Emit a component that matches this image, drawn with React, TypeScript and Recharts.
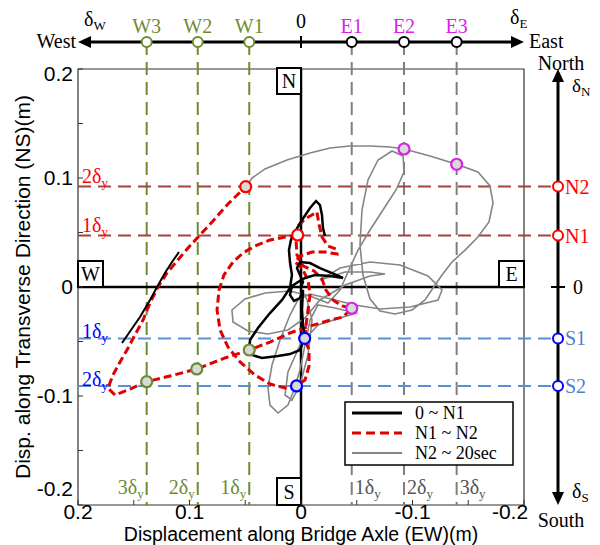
import React from 'react';
import {
  ComposedChart, Line, XAxis, YAxis,
  ReferenceLine, ReferenceDot, ReferenceArea,
} from 'recharts';

// ─── Yield levels (m), 1δy / 2δy / 3δy ─────────────────────────────────────────
const westLevels = [0.0464, 0.0926, 0.1384];     // W1, W2, W3
const eastLevels = [-0.0455, -0.0924, -0.1396];  // E1, E2, E3
const northLevels = [0.0472, 0.0922];            // N1, N2
const southLevels = [-0.0472, -0.0908];          // S1, S2

const axisTicks = [0.2, 0.15, 0.1, 0.05, 0, -0.05, -0.1, -0.15, -0.2];

// ─── Orbit traces (x = EW, y = NS) ────────────────────────────────────────────
const black0toN1: [number, number][] = [
  [0, 0], [-0.0018, 0.0046], [0.0009, 0.011], [0.0036, 0.0174], [0.0009, 0.0229],
  [-0.0081, 0.022], [-0.017, 0.0174], [-0.0278, 0.0128], [-0.0377, 0.0083],
  [-0.026, 0.0101], [-0.0126, 0.011], [-0.0036, 0.0083], [0.0027, 0.0046],
  [0.0081, 0.0009], [0.0099, -0.0073], [0.0063, -0.0128], [0.0009, -0.0101],
  [-0.0018, -0.0028], [-0.0009, -0.0211], [-0.0018, -0.0349], [-0.0033, -0.0471],
  [0.0009, -0.0578], [0.0099, -0.0615], [0.0206, -0.0633], [0.035, -0.0651],
  [0.0439, -0.0624], [0.0464, -0.0578], [0.0457, -0.0486], [0.0386, -0.0376],
  [0.0278, -0.0239], [0.017, -0.0119], [0.0099, -0.0009], [0.0081, 0.011],
  [0.0099, 0.0229], [0.0108, 0.0339], [0.009, 0.0431], [0.0045, 0.0523],
  [-0.0009, 0.0615], [-0.0081, 0.0725], [-0.0135, 0.0789], [-0.017, 0.0752],
  [-0.0188, 0.0661], [-0.0197, 0.0541], [-0.0215, 0.0468],
];

const blackArrow: [number, number][] = [
  [0.1605, -0.0514], [0.1525, -0.0394], [0.1444, -0.0275], [0.1354, -0.0119],
  [0.1291, 0], [0.122, 0.0128], [0.1157, 0.0229], [0.1094, 0.0321],
];

const redN1toN2: [number, number][] = [
  [0.003, 0.0477], [0.0143, 0.0459], [0.0278, 0.0431], [0.0413, 0.0376],
  [0.052, 0.0312], [0.061, 0.0229], [0.0691, 0.011], [0.0735, -0.0028],
  [0.0753, -0.0211], [0.0726, -0.0394], [0.0655, -0.055], [0.0547, -0.0688],
  [0.0413, -0.0807], [0.0278, -0.089], [0.0143, -0.0927], [0.004, -0.0908],
  [-0.0036, -0.0853], [-0.0072, -0.0725], [-0.0072, -0.0578], [-0.0033, -0.0471],
  [-0.0045, -0.0349], [-0.0063, -0.0211], [-0.0081, -0.0073], [-0.0063, 0.0064],
  [-0.0009, 0.0174], [0.0054, 0.0229], [0.0009, 0.0284], [-0.0099, 0.0321],
  [-0.0215, 0.0321], [-0.0323, 0.0303], [-0.0314, 0.0349], [-0.0242, 0.0376],
  [-0.0188, 0.0459], [-0.0161, 0.0578], [-0.0143, 0.0688], [-0.0036, 0.0624],
  [0.0027, 0.056], [0.0045, 0.0431], [0.0036, 0.0294], [-0.0018, 0.0193],
  [-0.0117, 0.0147], [-0.0188, 0.0073], [-0.0224, -0.0028], [-0.0287, -0.0119],
  [-0.0368, -0.0174], [-0.0455, -0.0195], [-0.0377, -0.0275], [-0.0233, -0.0312],
  [-0.0054, -0.0367], [0.0099, -0.0422], [0.0278, -0.0505], [0.0464, -0.0578],
  [0.0682, -0.0651], [0.0935, -0.0752], [0.1175, -0.0817], [0.1384, -0.0869],
  [0.1534, -0.0936], [0.1668, -0.0991], [0.1731, -0.0927], [0.1686, -0.0807],
  [0.1623, -0.0688], [0.1561, -0.0578], [0.1489, -0.044], [0.1417, -0.0303],
  [0.1354, -0.0147], [0.1283, 0], [0.1202, 0.0128], [0.1112, 0.0239],
  [0.1013, 0.0358], [0.0906, 0.0477], [0.0789, 0.0606], [0.0655, 0.0761],
  [0.0496, 0.092],
];

const greyN2to20s: [number, number][] = [
  [0.0496, 0.092], [0.0439, 0.1], [0.0323, 0.1083], [0.0126, 0.1165],
  [-0.0081, 0.1229], [-0.026, 0.1275], [-0.0439, 0.1294], [-0.0619, 0.1294],
  [-0.0798, 0.1284], [-0.0924, 0.1266], [-0.1157, 0.1202], [-0.1396, 0.1126],
  [-0.1587, 0.1055], [-0.1695, 0.0927], [-0.1722, 0.0771], [-0.1686, 0.0596],
  [-0.1587, 0.0459], [-0.1471, 0.0339], [-0.1354, 0.0229], [-0.1265, 0.011],
  [-0.1184, -0.0009], [-0.1112, -0.0119], [-0.0996, -0.0211], [-0.0843, -0.0248],
  [-0.0709, -0.022], [-0.0619, -0.011], [-0.0556, 0.011], [-0.0529, 0.0385],
  [-0.0547, 0.0706], [-0.0601, 0.0982], [-0.0691, 0.1165], [-0.0816, 0.1248],
  [-0.0915, 0.1202], [-0.0924, 0.1055], [-0.0852, 0.089], [-0.0735, 0.0706],
  [-0.0619, 0.0523], [-0.0511, 0.0339], [-0.0422, 0.0138], [-0.035, -0.0028],
  [-0.0242, -0.0147], [-0.0081, -0.0083], [0.0099, -0.0037], [0.0323, -0.0055],
  [0.0502, -0.011], [0.0619, -0.0211], [0.061, -0.0321], [0.0475, -0.0404],
  [0.0296, -0.0431], [0.0117, -0.0394], [-0.0036, -0.0284], [-0.017, -0.0119],
  [-0.0395, 0.0018], [-0.0619, 0.0101], [-0.0753, 0.0119], [-0.0619, 0.0138],
  [-0.0395, 0.0138], [-0.017, 0.0064], [-0.035, 0.0174], [-0.0619, 0.0229],
  [-0.0888, 0.0202], [-0.1139, 0.0101], [-0.1265, -0.0028], [-0.1229, -0.0119],
  [-0.0978, -0.0183], [-0.0709, -0.0202], [-0.0484, -0.0165], [-0.0305, -0.0119],
  [-0.0081, -0.0064], [0.0027, -0.0119], [0.0099, -0.0257], [0.0188, -0.0486],
  [0.026, -0.0716], [0.0296, -0.0927], [0.0278, -0.1083], [0.0206, -0.1156],
  [0.0117, -0.1083], [0.0063, -0.0945], [0.0009, -0.0761], [-0.0036, -0.0532],
  [-0.0081, -0.0303], [-0.0152, -0.0165], [-0.0305, -0.0193], [-0.0493, -0.0239],
  [-0.035, -0.0284], [-0.0152, -0.0349], [0.0009, -0.0532], [0.0117, -0.078],
  [0.0143, -0.0991], [0.0081, -0.1037], [0.0009, -0.0899], [-0.0063, -0.0624],
  [-0.0099, -0.0303], [-0.0054, -0.0119], [-0.0009, -0.0028],
];

// first-crossing markers on the orbit
const crossMarks = [
  { name: 'N1', x: 0.003, y: 0.0477, kind: 'N', fill: '#FFFFFF' },
  { name: 'N2', x: 0.0496, y: 0.092, kind: 'N', fill: '#D9D9D9' },
  { name: 'S1', x: -0.0033, y: -0.0471, kind: 'S', fill: '#D9D9D9' },
  { name: 'S2', x: 0.004, y: -0.0908, kind: 'S', fill: '#D9D9D9' },
  { name: 'W1', x: 0.0464, y: -0.0578, kind: 'W', fill: '#D9D9D9' },
  { name: 'W2', x: 0.0935, y: -0.0752, kind: 'W', fill: '#D9D9D9' },
  { name: 'W3', x: 0.1384, y: -0.0869, kind: 'W', fill: '#D9D9D9' },
  { name: 'E1', x: -0.0455, y: -0.0195, kind: 'E', fill: '#D9D9D9' },
  { name: 'E2', x: -0.0924, y: 0.1266, kind: 'E', fill: '#D9D9D9' },
  { name: 'E3', x: -0.1396, y: 0.1126, kind: 'E', fill: '#D9D9D9' },
];

const legendRows = ['0 ~ N1', 'N1 ~ N2', 'N2 ~ 20sec'];

// ─── Style ─────────────────────────────────────────────────────────────────────
const SERIF = '"Liberation Serif", "Times New Roman", serif';
const SANS = '"Liberation Sans", Arial, sans-serif';
const OLIVE = '#6E8B34';
const MAGENTA = '#D722E8';
const DRED = '#A4423D';
const LBLUE = '#5B8FD3';
const SBLUE = '#4A84C6';
const GREY = '#7F7F7F';
const markStroke: Record<string, string> = { N: '#FF0000', S: '#0000FF', W: OLIVE, E: MAGENTA };

const TOP_Y = 0.2248;     // top EW arrow axis (data units, above plot)
const RIGHT_X = -0.2305;  // right NS arrow axis (data units, right of plot)
const DASH = '13 7';

const toPts = (a: [number, number][]) => a.map(([x, y]) => ({ x, y }));

function labelFor(v: number) {
  if (Math.abs(v * 10 - Math.round(v * 10)) > 1e-6) return null;
  return v === 0 ? '0' : String(v);
}

function XTick(p: any) {
  const { x, y, payload } = p;
  const lab = labelFor(payload.value);
  const shift = payload.value === -0.2 ? -14 : 0;
  return (
    <g>
      <line x1={x} x2={x} y1={y} y2={y - 5} stroke="#333" />
      {lab && <text x={x + shift} y={y + 14} textAnchor="middle" fontFamily={SANS} fontSize={21} fill="#000">{lab}</text>}
    </g>
  );
}

function YTick(p: any) {
  const { x, y, payload } = p;
  const lab = labelFor(payload.value);
  let dy = 7;
  if (payload.value === 0.2) dy = 12;
  if (payload.value === -0.2) dy = -9;
  return (
    <g>
      <line x1={x} x2={x + 5} y1={y} y2={y} stroke="#333" />
      {lab && <text x={x - 5} y={y + dy} textAnchor="end" fontFamily={SANS} fontSize={21} fill="#000">{lab}</text>}
    </g>
  );
}

function arrowShape(start: boolean, end: boolean) {
  return (p: any) => {
    const { x1, y1, x2, y2 } = p;
    const a = Math.atan2(y2 - y1, x2 - x1);
    const L = 13, W = 6;
    const head = (x: number, y: number, ang: number) => {
      const bx = x - L * Math.cos(ang), by = y - L * Math.sin(ang);
      return `${x},${y} ${bx - W * Math.sin(ang)},${by + W * Math.cos(ang)} ${bx + W * Math.sin(ang)},${by - W * Math.cos(ang)}`;
    };
    const sx = start ? x1 + 8 * Math.cos(a) : x1, sy = start ? y1 + 8 * Math.sin(a) : y1;
    const ex = end ? x2 - 8 * Math.cos(a) : x2, ey = end ? y2 - 8 * Math.sin(a) : y2;
    return (
      <g>
        <line x1={sx} y1={sy} x2={ex} y2={ey} stroke="#000" strokeWidth={3} />
        {end && <polygon points={head(x2, y2, a)} fill="#000" />}
        {start && <polygon points={head(x1, y1, a + Math.PI)} fill="#000" />}
      </g>
    );
  };
}

const at = (key: string, x: number, y: number, draw: (cx: number, cy: number) => React.ReactNode) => (
  <ReferenceDot key={key} x={x} y={y} r={0} ifOverflow="visible"
    shape={(p: any) => <g>{draw(p.cx, p.cy)}</g>} />
);

const dy = (n: number | string, sub = 'y') => [
  <tspan key="a">{n}δ</tspan>,
  <tspan key="b" fontSize={13} dy={4}>{sub}</tspan>,
];

const boxLabel = (x: number, y: number, w: number, h: number, t: string) => (
  <g>
    <rect x={x} y={y} width={w} height={h} fill="#fff" stroke="#000" strokeWidth={2} />
    <text x={x + w / 2} y={y + h / 2 + 7} textAnchor="middle" fontFamily={SERIF} fontSize={20}>{t}</text>
  </g>
);

export default function App() {
  return (
    <div style={{ position: 'absolute', left: 0, top: 0, width: 600, height: 545, background: '#fff' }}>
      <ComposedChart width={600} height={545} margin={{ top: 69, right: 76, bottom: 0, left: 18 }}>
        <XAxis type="number" dataKey="x" domain={[-0.2, 0.2]} reversed allowDataOverflow
          ticks={axisTicks} interval={0} tick={<XTick />} tickLine={false} axisLine={false}
          tickSize={0} tickMargin={0} height={40} />
        <YAxis type="number" dataKey="y" domain={[-0.2, 0.2]} allowDataOverflow
          ticks={axisTicks} interval={0} tick={<YTick />} tickLine={false} axisLine={false}
          tickSize={0} tickMargin={0} width={60} />

        <ReferenceArea x1={0.2} x2={-0.2} y1={-0.2} y2={0.2} fill="none" stroke="#333" strokeWidth={1.2} />

        {/* yield-level guides */}
        {westLevels.map((v, i) => (
          <ReferenceLine key={`wl${i}`} segment={[{ x: v, y: TOP_Y }, { x: v, y: -0.2 }]} ifOverflow="visible"
            stroke={OLIVE} strokeWidth={2} strokeDasharray={DASH} />
        ))}
        {eastLevels.map((v, i) => (
          <ReferenceLine key={`el${i}`} segment={[{ x: v, y: TOP_Y }, { x: v, y: -0.2 }]} ifOverflow="visible"
            stroke={GREY} strokeWidth={2} strokeDasharray={DASH} />
        ))}
        {northLevels.map((v, i) => (
          <ReferenceLine key={`nl${i}`} segment={[{ x: 0.2, y: v }, { x: RIGHT_X, y: v }]} ifOverflow="visible"
            stroke={DRED} strokeWidth={2} strokeDasharray={DASH} />
        ))}
        {southLevels.map((v, i) => (
          <ReferenceLine key={`sl${i}`} segment={[{ x: 0.2, y: v }, { x: RIGHT_X, y: v }]} ifOverflow="visible"
            stroke={LBLUE} strokeWidth={2} strokeDasharray={DASH} />
        ))}

        <ReferenceLine x={0} stroke="#000" strokeWidth={2.5} />
        <ReferenceLine y={0} stroke="#000" strokeWidth={2.5} />

        {/* outer arrow axes */}
        <ReferenceLine segment={[{ x: 0.2, y: TOP_Y }, { x: -0.2, y: TOP_Y }]} ifOverflow="visible" shape={arrowShape(true, true)} />
        <ReferenceLine segment={[{ x: RIGHT_X, y: -0.2 }, { x: RIGHT_X, y: 0.2 }]} ifOverflow="visible" shape={arrowShape(true, true)} />

        <Line data={toPts(greyN2to20s)} dataKey="y" type="linear" stroke="#858585" strokeWidth={1.6} dot={false} isAnimationActive={false} />
        <Line data={toPts(redN1toN2)} dataKey="y" type="linear" stroke="#E00000" strokeWidth={3} strokeDasharray="8 4" dot={false} isAnimationActive={false} />
        <Line data={toPts(black0toN1)} dataKey="y" type="linear" stroke="#000" strokeWidth={2.5} dot={false} isAnimationActive={false} />
        <Line data={toPts(blackArrow)} dataKey="y" type="linear" stroke="#000" strokeWidth={2} dot={false} isAnimationActive={false} />

        {crossMarks.map(m => (
          <ReferenceDot key={m.name} x={m.x} y={m.y} r={5.5} fill={m.fill} stroke={markStroke[m.kind]} strokeWidth={2.2} ifOverflow="visible" />
        ))}

        {/* top EW axis */}
        {at('t0', 0, TOP_Y, (cx, cy) => (
          <g>
            <line x1={cx} x2={cx} y1={cy - 6} y2={cy + 6} stroke="#000" strokeWidth={2} />
            <text x={cx} y={cy - 14} textAnchor="middle" fontFamily={SERIF} fontSize={20}>0</text>
          </g>
        ))}
        {westLevels.map((v, i) => at(`tw${i}`, v, TOP_Y, (cx, cy) => (
          <g>
            <circle cx={cx} cy={cy} r={5} fill="#fff" stroke={OLIVE} strokeWidth={2} />
            <text x={cx} y={cy - 9} textAnchor="middle" fontFamily={SERIF} fontSize={20} fill={OLIVE}>{`W${i + 1}`}</text>
          </g>
        )))}
        {eastLevels.map((v, i) => at(`te${i}`, v, TOP_Y, (cx, cy) => (
          <g>
            <circle cx={cx} cy={cy} r={5} fill="#fff" stroke="#000" strokeWidth={2} />
            <text x={cx} y={cy - 9} textAnchor="middle" fontFamily={SERIF} fontSize={20} fill={MAGENTA}>{`E${i + 1}`}</text>
          </g>
        )))}
        {at('west', 0.2, TOP_Y, (cx, cy) => (
          <g fontFamily={SERIF} fontSize={20}>
            <text x={cx - 2} y={cy + 6} textAnchor="end">West</text>
            <text x={cx + 6} y={cy - 16}>δ<tspan fontSize={13} dy={4}>W</tspan></text>
          </g>
        ))}
        {at('east', -0.2, TOP_Y, (cx, cy) => (
          <g fontFamily={SERIF} fontSize={20}>
            <text x={cx + 5} y={cy + 6}>East</text>
            <text x={cx - 14} y={cy - 18}>δ<tspan fontSize={13} dy={4}>E</tspan></text>
          </g>
        ))}

        {/* right NS axis */}
        {northLevels.map((v, i) => at(`rn${i}`, RIGHT_X, v, (cx, cy) => (
          <g>
            <circle cx={cx} cy={cy} r={5} fill="#fff" stroke="#FF0000" strokeWidth={2} />
            <text x={cx + 7} y={cy + 7} fontFamily={SERIF} fontSize={20} fill="#FF0000">{`N${i + 1}`}</text>
          </g>
        )))}
        {southLevels.map((v, i) => at(`rs${i}`, RIGHT_X, v, (cx, cy) => (
          <g>
            <circle cx={cx} cy={cy} r={5} fill="#fff" stroke="#0000FF" strokeWidth={2} />
            <text x={cx + 7} y={cy + 7} fontFamily={SERIF} fontSize={20} fill={SBLUE}>{`S${i + 1}`}</text>
          </g>
        )))}
        {at('r0', RIGHT_X, 0, (cx, cy) => (
          <g>
            <line x1={cx - 7} x2={cx + 7} y1={cy} y2={cy} stroke="#000" strokeWidth={2} />
            <text x={cx + 15} y={cy + 7} fontFamily={SERIF} fontSize={20}>0</text>
          </g>
        ))}
        {at('north', RIGHT_X, 0.2, (cx, cy) => (
          <g fontFamily={SERIF}>
            <text x={cx + 3} y={cy + 1} textAnchor="middle" fontSize={20}>North</text>
            <text x={cx + 14} y={cy + 23} fontSize={19}>δ<tspan fontSize={13} dy={4}>N</tspan></text>
          </g>
        ))}
        {at('south', RIGHT_X, -0.2, (cx, cy) => (
          <g fontFamily={SERIF} fontSize={20}>
            <text x={cx + 3} y={cy + 22} textAnchor="middle">South</text>
            <text x={cx + 14} y={cy - 7}>δ<tspan fontSize={13} dy={4}>S</tspan></text>
          </g>
        ))}

        {/* δy labels inside the plot */}
        {northLevels.map((v, i) => at(`ln${i}`, 0.2, v, (cx, cy) => (
          <text x={cx + 4} y={cy - 4} fontFamily={SERIF} fontSize={20} fill="#FF0000">{dy(i + 1)}</text>
        )))}
        {southLevels.map((v, i) => at(`ls${i}`, 0.2, v, (cx, cy) => (
          <text x={cx + 4} y={cy} fontFamily={SERIF} fontSize={20} fill="#0000FF">{dy(i + 1)}</text>
        )))}
        {westLevels.map((v, i) => at(`bw${i}`, v, -0.2, (cx, cy) => (
          <text x={cx - 3} y={cy - 11} textAnchor="end" fontFamily={SERIF} fontSize={20} fill={OLIVE}>{dy(i + 1)}</text>
        )))}
        {eastLevels.map((v, i) => at(`be${i}`, v, -0.2, (cx, cy) => (
          <text x={cx + 3} y={cy - 11} fontFamily={SERIF} fontSize={20} fill="#555">{dy(i + 1)}</text>
        )))}

        {/* direction boxes */}
        {at('bN', 0, 0.2, (cx, cy) => boxLabel(cx - 24, cy - 1, 24, 26, 'N'))}
        {at('bS', 0, -0.2, (cx, cy) => boxLabel(cx - 24, cy - 27, 24, 27, 'S'))}
        {at('bW', 0.2, 0, (cx, cy) => boxLabel(cx, cy - 26, 25, 26, 'W'))}
        {at('bE', -0.2, 0, (cx, cy) => boxLabel(cx - 25, cy - 26, 25, 26, 'E'))}

        {/* legend */}
        {at('legend', -0.2, -0.2, (cx, cy) => {
          const lx = cx - 179, ly = cy - 103;
          const styles = [
            { stroke: '#000', w: 3, dash: undefined },
            { stroke: '#E00000', w: 3, dash: '9 5' },
            { stroke: '#858585', w: 2, dash: undefined },
          ];
          return (
            <g>
              <rect x={lx} y={ly} width={168} height={63} fill="#fff" stroke="#000" strokeWidth={1.5} />
              {legendRows.map((t, i) => (
                <g key={t}>
                  <line x1={lx + 7} x2={lx + 57} y1={ly + 11 + i * 20} y2={ly + 11 + i * 20}
                    stroke={styles[i].stroke} strokeWidth={styles[i].w} strokeDasharray={styles[i].dash} />
                  <text x={lx + 70} y={ly + 17 + i * 20} fontFamily={SERIF} fontSize={18}>{t}</text>
                </g>
              ))}
            </g>
          );
        })}

        {/* axis titles */}
        {at('xt', 0, -0.2, (cx, cy) => (
          <text x={cx} y={cy + 35.5} textAnchor="middle" fontFamily={SANS} fontSize={19.5}>Displacement along Bridge Axle (EW)(m)</text>
        ))}
        {at('yt', 0.2, 0, (cx, cy) => (
          <text x={cx - 48} y={cy} transform={`rotate(-90 ${cx - 48} ${cy})`} textAnchor="middle" fontFamily={SANS} fontSize={21}>
            Disp. along Transverse Direction (NS)(m)
          </text>
        ))}
      </ComposedChart>
    </div>
  );
}
